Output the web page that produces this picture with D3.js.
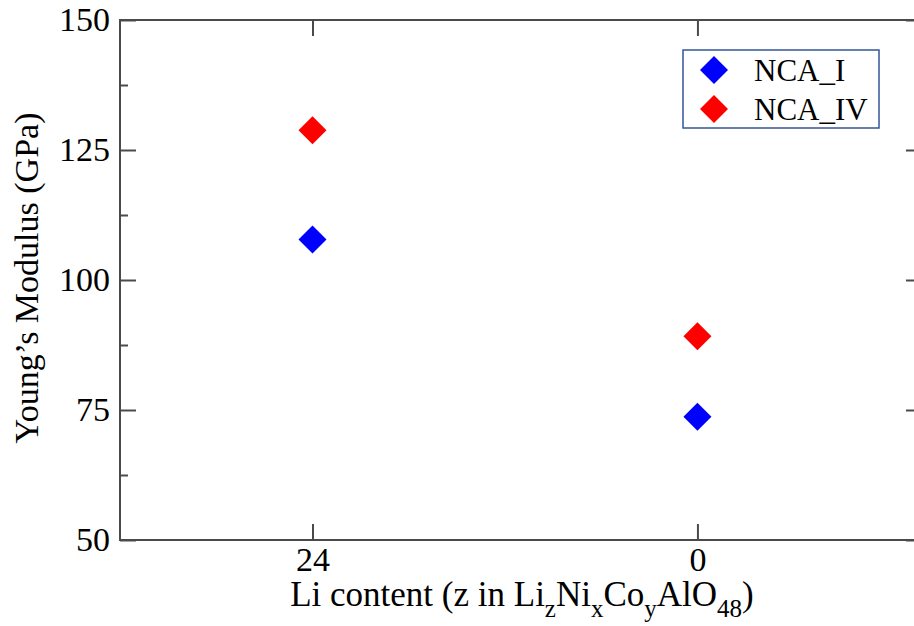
<!DOCTYPE html>
<html>
<head>
<meta charset="utf-8">
<script src="https://cdn.jsdelivr.net/npm/d3@7"></script>
<style>
  html, body { margin: 0; padding: 0; background: #fff; }
  svg { display: block; }
  svg text { font-family: "Liberation Serif", "Times New Roman", Times, "DejaVu Serif", serif !important; fill: #000; }
</style>
</head>
<body>
<svg id="chart" width="914" height="626"></svg>
<script>
// ---- data ----
const liContent = [24, 0];
const seriesNames = ["NCA_I", "NCA_IV"];
const seriesColors = ["#0000ff", "#ff0000"];
const ncaI = [107.8, 73.7];
const ncaIV = [128.8, 89.2];
const yMajorTicks = [50, 75, 100, 125, 150];
const yMinorTicks = [62.5, 87.5, 112.5, 137.5];
const xTicks = [24, 0];

const svg = d3.select("#chart");
const L = 120, T = 20, R = 922, B = 540;

const x = d3.scaleLinear().domain([36, -14]).range([L, R]);
const y = d3.scaleLinear().domain([50, 150]).range([B, T]);

const axisColor = "#4a4a4a";
const fontTick = 34;

function styleAxis(g) {
  g.attr("font-family", null).attr("font-size", null);
  g.select(".domain").remove();
  g.selectAll(".tick line").attr("stroke", axisColor).attr("stroke-width", 2);
}

// left axis
svg.append("g").attr("transform", `translate(${L},0)`)
  .call(d3.axisLeft(y).tickValues(yMajorTicks).tickSize(-16).tickPadding(10).tickFormat(d3.format("d")))
  .call(styleAxis)
  .call(g => g.selectAll("text").style("font-size", fontTick + "px").attr("fill", "#000"));
svg.append("g").attr("transform", `translate(${L},0)`)
  .call(d3.axisLeft(y).tickValues(yMinorTicks).tickSize(-8).tickFormat(""))
  .call(styleAxis);
// right axis
svg.append("g").attr("transform", `translate(${R},0)`)
  .call(d3.axisRight(y).tickValues(yMajorTicks).tickSize(-16).tickFormat(""))
  .call(styleAxis);
svg.append("g").attr("transform", `translate(${R},0)`)
  .call(d3.axisRight(y).tickValues(yMinorTicks).tickSize(-8).tickFormat(""))
  .call(styleAxis);
// bottom axis
svg.append("g").attr("transform", `translate(0,${B})`)
  .call(d3.axisBottom(x).tickValues(xTicks).tickSize(-16).tickPadding(7).tickFormat(d3.format("d")))
  .call(styleAxis)
  .call(g => g.selectAll("text").style("font-size", fontTick + "px").attr("fill", "#000"));
// top axis
svg.append("g").attr("transform", `translate(0,${T})`)
  .call(d3.axisTop(x).tickValues(xTicks).tickSize(-16).tickFormat(""))
  .call(styleAxis);

// frame
svg.append("rect").attr("x", L).attr("y", T).attr("width", R - L).attr("height", B - T)
  .attr("fill", "none").attr("stroke", axisColor).attr("stroke-width", 2);

// diamonds
const diamond = (cx, cy, r) => `M${cx},${cy - r}L${cx + r},${cy}L${cx},${cy + r}L${cx - r},${cy}Z`;
const series = [ncaI, ncaIV];
series.forEach((vals, si) => {
  svg.append("g").selectAll("path").data(vals).join("path")
    .attr("d", (v, i) => diamond(x(liContent[i]), y(v), 14))
    .attr("fill", seriesColors[si]);
});

// legend
const lg = svg.append("g");
lg.append("rect").attr("x", 683).attr("y", 50).attr("width", 196).attr("height", 78)
  .attr("fill", "#fff").attr("stroke", "#34559a").attr("stroke-width", 1.5);
seriesNames.forEach((name, i) => {
  const cy = 70 + i * 39;
  lg.append("path").attr("d", diamond(714, cy, 14)).attr("fill", seriesColors[i]);
  lg.append("text").attr("x", 754).attr("y", cy + 11).style("font-size", "31px").text(name);
});

// y title
svg.append("text")
  .attr("transform", "translate(38,278) rotate(-90)")
  .attr("text-anchor", "middle")
  .style("font-size", "34px")
  .text("Young\u2019s Modulus (GPa)");

// x title
const xt = svg.append("text").attr("x", 522).attr("y", 606).attr("text-anchor", "middle").style("font-size", "35px");
const parts = [["Li content (z in Li", 0], ["z", 1], ["Ni", 0], ["x", 1], ["Co", 0], ["y", 1], ["AlO", 0], ["48", 1], [")", 0]];
let prevSub = 0;
parts.forEach(([t, sub]) => {
  const ts = xt.append("tspan").text(t);
  const dy = (sub - prevSub) * 11;
  if (dy) ts.attr("dy", dy);
  if (sub) ts.style("font-size", "25px");
  prevSub = sub;
});
</script>
</body>
</html>
